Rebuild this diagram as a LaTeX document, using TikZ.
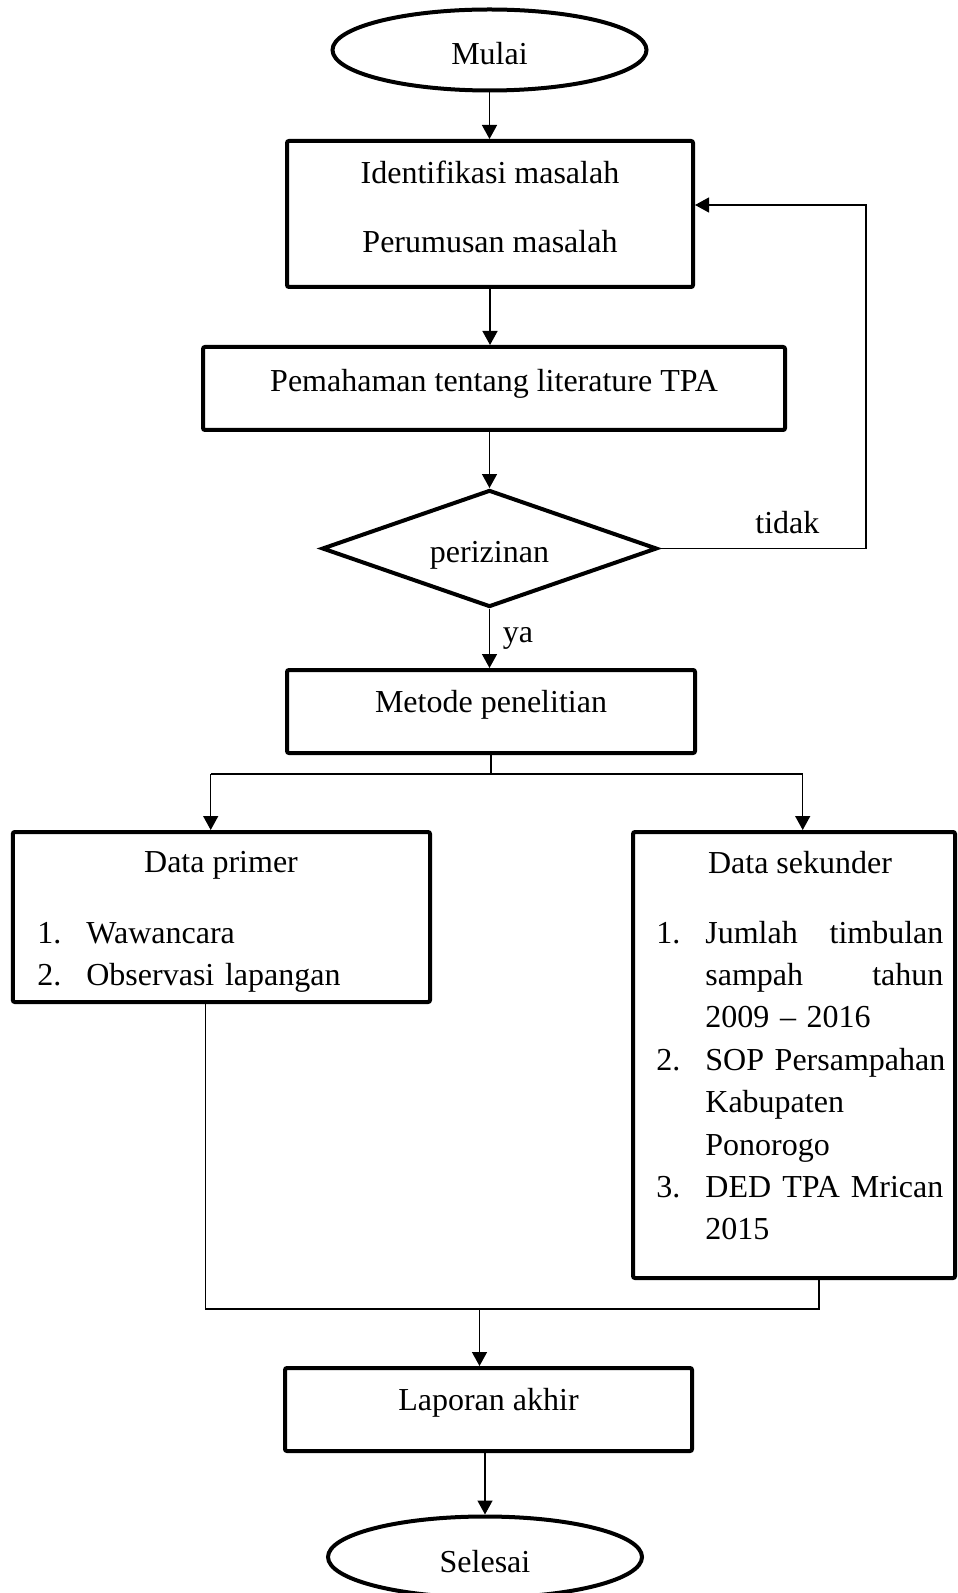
\documentclass[tikz,border=0pt]{standalone}
\usepackage{fontspec}
\setmainfont{Liberation Serif}
\usetikzlibrary{shapes.geometric,arrows.meta}
\setlength{\parindent}{0pt}
% one line of a numbered list
\newcommand{\baris}[2]{\hbox to \linewidth{\makebox[24.5pt][l]{#1}#2\hfil}}

\tikzset{
  terminal/.style={draw, ellipse, line width=2pt, minimum width=157pt, minimum height=40.5pt, inner sep=0pt, text height=15pt, text depth=0pt},
  proc/.style={draw, rectangle, line width=2pt, rounded corners=1pt, inner sep=0pt, minimum width=#1, minimum height=41.5pt},
  lift/.style={text height=11pt, text depth=10.5pt},
  decision/.style={draw, diamond, aspect=2.86, line width=2pt, minimum width=167.5pt, minimum height=58.5pt, inner sep=0pt, text height=17.9pt, text depth=3.5pt},
  databox/.style={draw, rectangle, line width=2pt, rounded corners=1pt},
  itemlist/.style={anchor=base west, inner sep=0pt, text width=#1},
  arr/.style={-{Triangle[length=7pt,width=7.5pt]}, line width=0.7pt},
  conn/.style={line width=0.7pt},
}

\begin{document}
\begin{tikzpicture}[x=0.5pt, y=-0.5pt, font=\fontsize{16}{21.2}\selectfont]
\useasboundingbox (0,0) rectangle (957,1593);
% main column
\node[terminal] (mulai) at (489.5,50) {Mulai};
\node[proc=203pt, minimum height=73pt, text width=203pt, align=flush center, text depth=41.5pt] (ident) at (490,214) {Identifikasi masalah\\[13.3pt]Perumusan masalah};
\node[proc=291pt, lift, text depth=7.5pt] (paham) at (494,388.5) {Pemahaman tentang literature TPA};
\node[decision] (izin) at (489.5,548.5) {perizinan};
\node[proc=204pt, lift] (metode) at (491,711.5) {Metode penelitian};
% data boxes
\node[databox, minimum width=208.6pt, minimum height=85pt] (primer) at (221.4,917) {};
\node (primerJudul) at (221,865) {Data primer};
\node[itemlist=170pt] (primerIsi) at (37,943) {\baris{1.}{Wawancara}
\baris{2.}{Observasi lapangan}};
\node[databox, minimum width=161pt, minimum height=223pt] (sekunder) at (794,1055) {};
\node (sekunderJudul) at (800,863) {Data sekunder};
\node[itemlist=143.5pt] (sekunderIsi) at (656,943) {\baris{1.}{Jumlah\hfill timbulan}
\baris{}{sampah\hfill tahun}
\baris{}{2009 -- 2016}
\baris{2.}{SOP Persampahan}
\baris{}{Kabupaten}
\baris{}{Ponorogo}
\baris{3.}{DED \hfill TPA \hfill Mrican}
\baris{}{2015}};
\node[proc=203.5pt, lift] (laporan) at (488.5,1409.5) {Laporan akhir};
\node[terminal] (selesai) at (485,1557) {Selesai};

% connectors
\coordinate (balik) at (866,205);
\coordinate (cabangKiri) at (210.7,774);
\coordinate (cabangKanan) at (802.7,774);
\coordinate (gabungKiri) at (205.7,1309);
\coordinate (gabungKanan) at (819,1309);
\coordinate (gabung) at (479.5,1309);

\draw[arr] (mulai) -- (mulai |- ident.north);
\draw[arr] (ident) -- (ident |- paham.north);
\draw[arr] (izin |- paham.south) -- (izin);
\draw[arr] (izin) -- (izin |- metode.north) node[right=3pt, pos=0.5]{ya};
\draw[arr, line width=0.6pt] (izin.east) -| (balik) node[above=3.5pt, pos=0.31]{tidak} -- (ident.east |- balik);
\draw[conn] (metode) -- (metode |- cabangKiri);
\draw[conn] (cabangKiri) -- (cabangKanan);
\draw[arr] (cabangKiri) -- (cabangKiri |- primer.north);
\draw[arr] (cabangKanan) -- (cabangKanan |- sekunder.north);
\draw[conn] (primer.south -| gabungKiri) |- (gabungKanan) -- (gabungKanan |- sekunder.south);
\draw[arr] (gabung) -- (gabung |- laporan.north);
\draw[arr] (selesai |- laporan.south) -- (selesai);
\end{tikzpicture}
\end{document}
